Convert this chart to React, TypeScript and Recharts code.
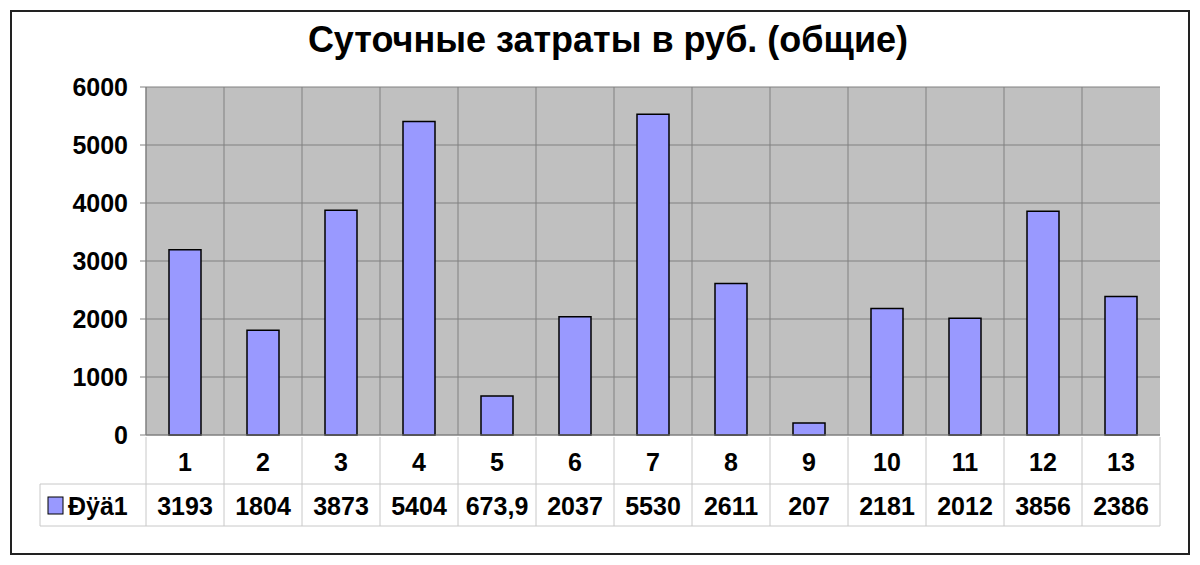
import { BarChart, Bar, XAxis, YAxis, CartesianGrid } from 'recharts';

const categories = ['1', '2', '3', '4', '5', '6', '7', '8', '9', '10', '11', '12', '13'];
const costs = [3193, 1804, 3873, 5404, 673.9, 2037, 5530, 2611, 207, 2181, 2012, 3856, 2386];
const seriesName = 'Ðÿä1';
const yTicks = [0, 1000, 2000, 3000, 4000, 5000, 6000];
const title = 'Суточные затраты в руб. (общие)';

const data = categories.map((c, i) => ({ name: c, value: costs[i] }));

const FONT = '"Liberation Sans", Arial, sans-serif';
const BAR = '#9999FF';
const TABLE_LINE = '#c8c8c8';

const fmt = (v: number) => String(v).replace('.', ',');

function TableTick(props: any) {
  const { x, y, payload, index, width, visibleTicksCount } = props;
  const band = width / visibleTicksCount;
  const left = x - band / 2;
  const top = y - 6;
  const row1 = top + 47;
  const row2 = row1 + 42;
  return (
    <g>
      <text x={x} y={top + 34} textAnchor="middle" fontSize={25} fontWeight="bold" fontFamily={FONT} fill="#000">
        {payload.value}
      </text>
      <text x={x} y={row1 + 31} textAnchor="middle" fontSize={25} fontWeight="bold" fontFamily={FONT} fill="#000">
        {fmt(costs[index])}
      </text>
      <line x1={left + band} y1={top} x2={left + band} y2={row2} stroke={TABLE_LINE} />
      <line x1={left} y1={row1} x2={left + band} y2={row1} stroke={TABLE_LINE} />
      <line x1={left} y1={row2} x2={left + band} y2={row2} stroke={TABLE_LINE} />
      {index === 0 && (
        <g>
          <line x1={left} y1={top} x2={left} y2={row2} stroke={TABLE_LINE} />
          <line x1={left - 106} y1={row1} x2={left} y2={row1} stroke={TABLE_LINE} />
          <line x1={left - 106} y1={row2} x2={left} y2={row2} stroke={TABLE_LINE} />
          <line x1={left - 106} y1={row1} x2={left - 106} y2={row2} stroke={TABLE_LINE} />
          <rect x={left - 98} y={row1 + 13} width={15} height={17} fill={BAR} stroke="#000" strokeWidth={1} />
          <text x={left - 78} y={row1 + 31} fontSize={25} fontWeight="bold" fontFamily={FONT} fill="#000">
            {seriesName}
          </text>
        </g>
      )}
    </g>
  );
}

export default function App() {
  return (
    <div style={{ position: 'relative', width: 1200, height: 565, margin: -8, background: '#fff' }}>
      <div
        style={{
          position: 'absolute',
          left: 10,
          top: 10,
          width: 1176,
          height: 541,
          border: '2px solid #222',
        }}
      />
      <div
        style={{
          position: 'absolute',
          left: 0,
          top: 19,
          width: 1216,
          textAlign: 'center',
          fontFamily: FONT,
          fontWeight: 'bold',
          fontSize: 36,
          lineHeight: '42px',
          color: '#000',
        }}
      >
        {title}
      </div>
      <div style={{ position: 'absolute', left: 0, top: 0 }}>
        <BarChart width={1200} height={565} data={data} margin={{ top: 87, right: 40, bottom: 41, left: 0 }} barCategoryGap={0}>
          <CartesianGrid
            fill="#C0C0C0"
            fillOpacity={1}
            stroke="#808080"
            strokeWidth={1}
            verticalCoordinatesGenerator={({ offset }: any) =>
              categories.map((_, i) => offset.left + (offset.width * i) / categories.length)
            }
          />
          <YAxis
            width={146}
            domain={[0, 6000]}
            ticks={yTicks}
            interval={0}
            tickSize={6}
            tickMargin={12}
            axisLine={{ stroke: '#808080' }}
            tickLine={{ stroke: '#808080' }}
            tick={{ fontSize: 25, fontWeight: 'bold', fontFamily: FONT, fill: '#000' }}
          />
          <XAxis
            dataKey="name"
            height={89}
            interval={0}
            axisLine={{ stroke: '#808080' }}
            tickLine={false}
            tick={<TableTick />}
          />
          <Bar dataKey="value" fill={BAR} stroke="#000" strokeWidth={1.5} barSize={32} isAnimationActive={false} />
        </BarChart>
      </div>
    </div>
  );
}
